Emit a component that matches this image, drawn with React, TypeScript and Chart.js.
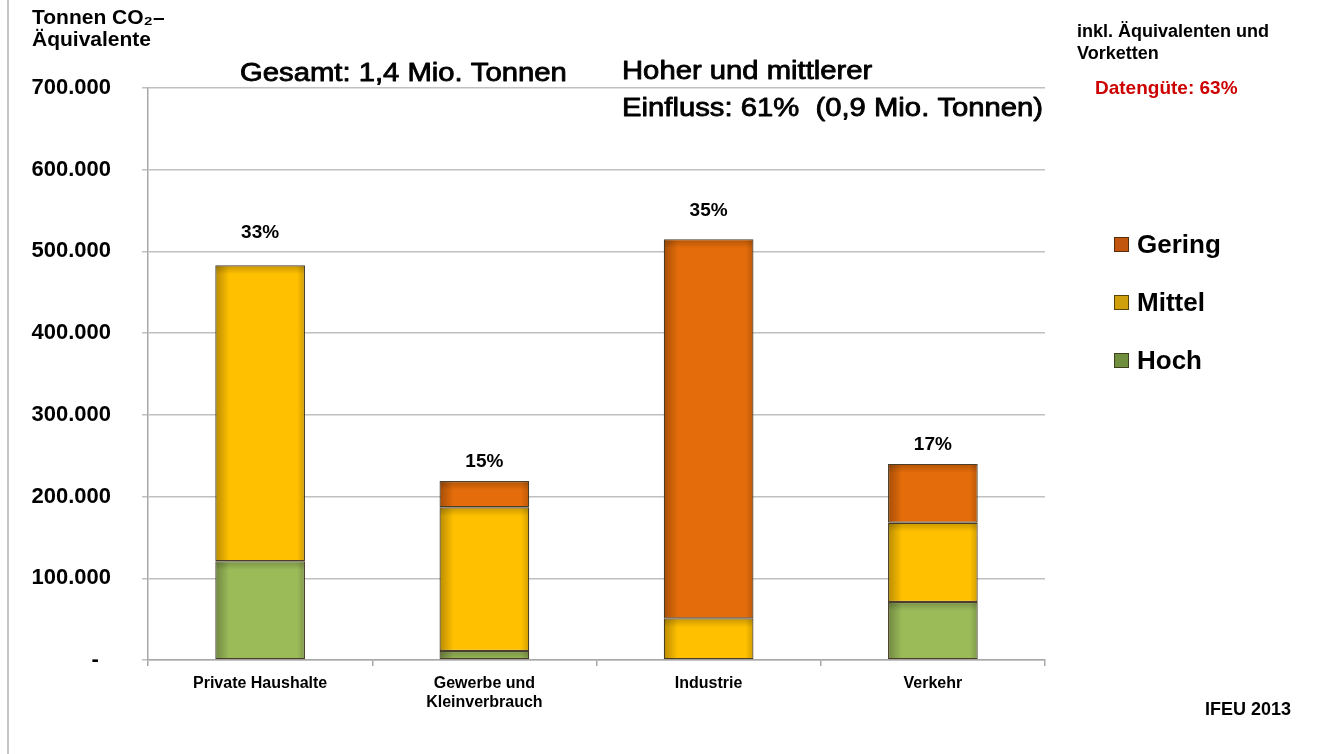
import React, { useEffect, useRef } from "react";
import { Chart, registerables } from "chart.js";

Chart.register(...registerables);

// ---- data ----
const categories: (string | string[])[] = [
  "Private Haushalte",
  ["Gewerbe und", "Kleinverbrauch"],
  "Industrie",
  "Verkehr",
];
const hochValues = [121000, 11000, 0, 71000];
const mittelValues = [362000, 176000, 51000, 97000];
const geringValues = [0, 32000, 464000, 72000];
const shareLabels = ["33%", "15%", "35%", "17%"];
const legendLabels = ["Gering", "Mittel", "Hoch"];
const yMax = 700000;
const yStep = 100000;

// ---- style ----
const FONT = "'Liberation Sans', Arial, Helvetica, sans-serif";
const colHoch = "#9bbb59";
const colMittel = "#ffc000";
const colGering = "#e46c0a";
const legendFill = ["#c2560e", "#cf9f0c", "#6f8f3f"];
const shareGap = [27, 14, 23, 14];

function fmtThousands(v: number): string {
  if (v === 0) return "-  ";
  return String(v).replace(/\B(?=(\d{3})+(?!\d))/g, ".");
}

function drawText(
  ctx: CanvasRenderingContext2D,
  s: string,
  x: number,
  y: number,
  size: number,
  weight: string,
  color: string,
  sx = 1,
  stroke = 0,
  align: CanvasTextAlign = "left"
) {
  ctx.save();
  ctx.translate(x, y);
  ctx.scale(sx, 1);
  ctx.font = `${weight} ${size}px ${FONT}`;
  ctx.fillStyle = color;
  ctx.textAlign = align;
  ctx.textBaseline = "alphabetic";
  ctx.fillText(s, 0, 0);
  if (stroke > 0) {
    ctx.lineWidth = stroke;
    ctx.strokeStyle = color;
    ctx.lineJoin = "round";
    ctx.strokeText(s, 0, 0);
  }
  ctx.restore();
}

const shadePlugin = {
  id: "barShade",
  afterDatasetsDraw(chart: any) {
    const ctx: CanvasRenderingContext2D = chart.ctx;
    chart.data.datasets.forEach((_: any, di: number) => {
      const meta = chart.getDatasetMeta(di);
      meta.data.forEach((el: any) => {
        const { x, y, base, width } = el.getProps(["x", "y", "base", "width"], true);
        const left = x - width / 2;
        const top = Math.min(y, base);
        const h = Math.abs(base - y);
        if (h < 2) return;
        ctx.save();
        ctx.beginPath();
        ctx.rect(left + 1, top + 1, width - 2, h - 2);
        ctx.clip();
        let g = ctx.createLinearGradient(left, 0, left + 14, 0);
        g.addColorStop(0, "rgba(0,0,0,0.28)");
        g.addColorStop(1, "rgba(0,0,0,0)");
        ctx.fillStyle = g;
        ctx.fillRect(left, top, 14, h);
        g = ctx.createLinearGradient(left + width, 0, left + width - 8, 0);
        g.addColorStop(0, "rgba(0,0,0,0.18)");
        g.addColorStop(1, "rgba(0,0,0,0)");
        ctx.fillStyle = g;
        ctx.fillRect(left + width - 8, top, 8, h);
        g = ctx.createLinearGradient(0, top, 0, top + 9);
        g.addColorStop(0, "rgba(0,0,0,0.22)");
        g.addColorStop(1, "rgba(0,0,0,0)");
        ctx.fillStyle = g;
        ctx.fillRect(left, top, width, 9);
        ctx.restore();
      });
    });
  },
};

const annotationPlugin = {
  id: "annotations",
  afterDraw(chart: any) {
    const ctx: CanvasRenderingContext2D = chart.ctx;
    const xs = chart.scales.x;
    const ys = chart.scales.y;

    // left slide border
    ctx.save();
    ctx.strokeStyle = "#c4c4c4";
    ctx.lineWidth = 2;
    ctx.beginPath();
    ctx.moveTo(8, 0);
    ctx.lineTo(8, chart.height);
    ctx.stroke();
    ctx.restore();

    // share labels above stacks
    categories.forEach((_, i) => {
      const total = hochValues[i] + mittelValues[i] + geringValues[i];
      const px = xs.getPixelForValue(i);
      const py = ys.getPixelForValue(total) - shareGap[i];
      drawText(ctx, shareLabels[i], px, py, 19, "bold", "#000", 1, 0, "center");
    });

    // axis title
    drawText(ctx, "Tonnen CO\u2082\u2013", 32, 24, 21, "bold", "#000");
    drawText(ctx, "\u00C4quivalente", 32, 46, 21, "bold", "#000");

    // headline texts
    drawText(ctx, "Gesamt: 1,4 Mio. Tonnen", 240, 81, 25, "normal", "#000", 1.17, 0.8);
    drawText(ctx, "Hoher und mittlerer", 622, 79, 25, "normal", "#000", 1.17, 0.8);
    drawText(ctx, "Einfluss: 61%  (0,9 Mio. Tonnen)", 622, 116, 25, "normal", "#000", 1.17, 0.8);

    // top-right notes
    drawText(ctx, "inkl. \u00C4quivalenten und", 1077, 37, 18, "bold", "#000");
    drawText(ctx, "Vorketten", 1077, 59, 18, "bold", "#000");
    drawText(ctx, "Datengüte: 63%", 1095, 94, 19, "bold", "#cc0000");

    // legend
    const baselines = [253, 311, 369];
    legendLabels.forEach((lab, i) => {
      const b = baselines[i];
      ctx.save();
      ctx.fillStyle = legendFill[i];
      ctx.fillRect(1114, b - 16, 15, 15);
      ctx.strokeStyle = "rgba(40,30,10,0.7)";
      ctx.lineWidth = 1;
      ctx.strokeRect(1114.5, b - 15.5, 14, 14);
      ctx.restore();
      drawText(ctx, lab, 1137, b, 26, "bold", "#000");
    });

    // source
    drawText(ctx, "IFEU 2013", 1205, 715, 18, "bold", "#000");
  },
};

export default function App() {
  const ref = useRef<HTMLCanvasElement | null>(null);

  useEffect(() => {
    if (!ref.current) return;
    const border = "rgba(55,42,18,0.9)";
    const chart = new Chart(ref.current, {
      type: "bar",
      data: {
        labels: categories as any,
        datasets: [
          {
            label: "Hoch",
            data: hochValues,
            backgroundColor: colHoch,
            borderColor: border,
            borderWidth: 1.2,
            borderSkipped: false,
            categoryPercentage: 0.8,
            barPercentage: 0.5,
          },
          {
            label: "Mittel",
            data: mittelValues,
            backgroundColor: colMittel,
            borderColor: border,
            borderWidth: 1.2,
            borderSkipped: false,
            categoryPercentage: 0.8,
            barPercentage: 0.5,
          },
          {
            label: "Gering",
            data: geringValues,
            backgroundColor: colGering,
            borderColor: border,
            borderWidth: 1.2,
            borderSkipped: false,
            categoryPercentage: 0.8,
            barPercentage: 0.5,
          },
        ],
      },
      options: {
        responsive: false,
        animation: false,
        layout: { padding: { top: 88, right: 291, bottom: 0, left: 0 } },
        plugins: {
          legend: { display: false },
          tooltip: { enabled: false },
          title: { display: false },
        },
        scales: {
          x: {
            stacked: true,
            grid: {
              offset: true,
              drawOnChartArea: false,
              drawTicks: true,
              tickLength: 6,
              color: "#a8a8a8",
              lineWidth: 1.5,
            },
            border: { display: true, color: "#a8a8a8", width: 1.5 },
            ticks: {
              color: "#000",
              padding: 8,
              font: { family: FONT, size: 16, weight: "bold", lineHeight: 1.2 },
              maxRotation: 0,
              autoSkip: false,
            },
            afterFit(scale: any) {
              scale.height = 94;
            },
          },
          y: {
            stacked: true,
            min: 0,
            max: yMax,
            grid: {
              drawTicks: true,
              tickLength: 6,
              color: "#c0c0c0",
              lineWidth: 1.5,
            },
            border: { display: true, color: "#a8a8a8", width: 1.5 },
            ticks: {
              stepSize: yStep,
              color: "#000",
              padding: 31,
              font: { family: FONT, size: 22, weight: "bold" },
              callback: (v: any) => fmtThousands(Number(v)),
            },
            afterFit(scale: any) {
              scale.width = 148;
            },
          },
        },
      },
      plugins: [shadePlugin, annotationPlugin],
    } as any);
    return () => chart.destroy();
  }, []);

  return (
    <div
      style={{
        position: "fixed",
        left: 0,
        top: 0,
        width: 1336,
        height: 754,
        background: "#fff",
      }}
    >
      <canvas ref={ref} width={1336} height={754} style={{ display: "block" }} />
    </div>
  );
}
